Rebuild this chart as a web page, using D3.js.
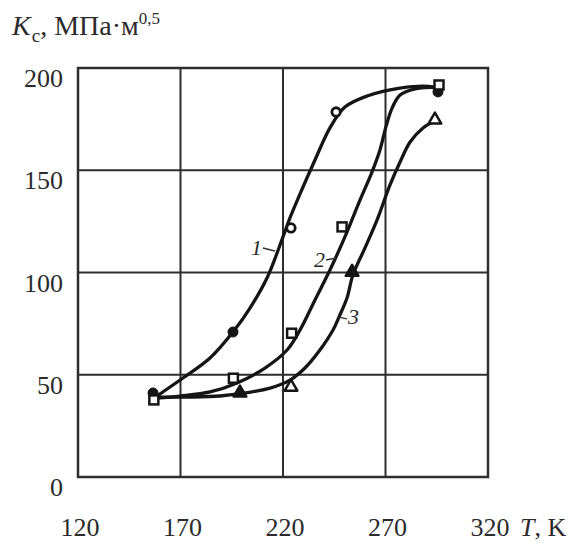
<!DOCTYPE html>
<html><head><meta charset="utf-8">
<script src="https://cdn.jsdelivr.net/npm/d3@7"></script>
<style>
body{margin:0;background:#fff}
svg{display:block;background:#fff}
text{font-family:"Liberation Serif","Times New Roman",serif;fill:#2b2b2b}
</style>
</head><body>
<svg id="chart" width="585" height="544"></svg>
<script>
// ---- data (T in K, Kc in MPa·m^0.5) ----
const tempTicks = [120, 170, 220, 270, 320];
const kcTicks = [0, 50, 100, 150, 200];

// measured points
const circleT = [156.6, 195.6, 223.9, 245.9, 295.6];
const circleK = [41.1, 70.9, 121.8, 178.5, 188.3];
const squareT = [157.0, 195.8, 224.2, 248.8, 296.1];
const squareK = [37.7, 48.3, 70.3, 122.3, 191.7];
const triangleT = [199.0, 223.9, 253.7, 294.1];
const triangleK = [41.1, 44.0, 100.2, 174.6];

// fitted curves
const curve1T = [158.5,171.2,184.4,195.6,203.9,212.2,220.0,223.4,228.3,235.6,242.9,250.2,261.0,277.1,293.2,296.6];
const curve1K = [39.6,48.4,58.2,70.9,82.6,97.3,117.4,126.7,138.4,155.0,170.7,180.9,186.3,190.2,190.7,188.8];
const curve2T = [158.5,169.8,184.4,197.6,211.2,222.0,228.3,235.6,242.9,250.2,257.6,263.4,267.3,270.2,273.2,277.1,284.4,296.6];
const curve2K = [38.6,39.6,41.6,46.0,53.3,62.1,71.9,86.6,101.2,117.4,135.5,149.1,159.9,171.2,180.4,186.8,189.8,190.7];
const curve3T = [158.5,174.6,189.3,201.5,213.7,223.4,230.7,238.0,244.4,247.3,251.2,254.1,260.0,265.9,272.2,277.1,282.0,288.3,294.1];
const curve3K = [39.1,39.1,39.6,41.1,43.5,47.4,53.3,62.1,71.9,78.2,87.5,98.8,112.0,125.7,142.8,154.0,163.8,170.7,174.1];

// curve labels with leader lines (data coords)
const curveNames = ["1", "2", "3"];
const leaderFromT = [210.2, 241.0, 247.3], leaderFromK = [112.0, 106.1, 78.2];
const leaderToT = [216.1, 245.9, 251.2],   leaderToK = [110.5, 107.1, 77.3];

// ---- drawing ----
const svg = d3.select("#chart");
const x = d3.scaleLinear().domain([120, 320]).range([78, 488]);
const y = d3.scaleLinear().domain([0, 200]).range([477, 68]);
const ink = "#151515", gridInk = "#2e2e2e";

// grid
const g = svg.append("g");
g.selectAll("line.v").data(tempTicks.slice(1, -1)).join("line")
  .attr("x1", d => x(d)).attr("x2", d => x(d)).attr("y1", y(0)).attr("y2", y(200))
  .attr("stroke", gridInk).attr("stroke-width", 2);
g.selectAll("line.h").data(kcTicks.slice(1, -1)).join("line")
  .attr("y1", d => y(d)).attr("y2", d => y(d)).attr("x1", x(120)).attr("x2", x(320))
  .attr("stroke", gridInk).attr("stroke-width", 2);
g.append("rect").attr("x", x(120)).attr("y", y(200)).attr("width", x(320) - x(120)).attr("height", y(0) - y(200))
  .attr("fill", "none").attr("stroke", gridInk).attr("stroke-width", 2.5);

// tick labels
svg.selectAll("text.yt").data(kcTicks).join("text")
  .attr("x", 63).attr("y", d => y(d) + 19).attr("text-anchor", "end")
  .attr("font-size", 26).text(d => d);
svg.selectAll("text.xt").data(tempTicks).join("text")
  .attr("x", d => x(d) + 2).attr("y", 536).attr("text-anchor", "middle")
  .attr("font-size", 26).text(d => d);

// axis titles
const xt = svg.append("text").attr("x", 520).attr("y", 536).attr("font-size", 26);
xt.append("tspan").attr("font-style", "italic").text("T");
xt.append("tspan").text(", K");

const yt = svg.append("text").attr("x", 12).attr("y", 35).attr("font-size", 28);
yt.append("tspan").attr("font-style", "italic").text("K");
yt.append("tspan").attr("font-size", 19).attr("dy", 7).attr("dx", 1).text("c");
yt.append("tspan").attr("dy", -7).text(", МПа·м");
yt.append("tspan").attr("font-size", 17).attr("dy", -11).text("0,5");

// curves
const line = d3.line().x(d => x(d[0])).y(d => y(d[1])).curve(d3.curveCatmullRom.alpha(0.5));
[[curve1T, curve1K], [curve2T, curve2K], [curve3T, curve3K]].forEach(([ts, ks]) => {
  svg.append("path").datum(d3.zip(ts, ks)).attr("d", line)
    .attr("fill", "none").attr("stroke", ink).attr("stroke-width", 3.3).attr("stroke-linecap", "round");
});

// markers
const circleOpen = [false, false, true, true, false];
svg.selectAll("circle.m").data(d3.zip(circleT, circleK)).join("circle")
  .attr("cx", d => x(d[0])).attr("cy", d => y(d[1]))
  .attr("r", (d, i) => circleOpen[i] ? 4.2 : 5)
  .attr("fill", (d, i) => circleOpen[i] ? "#fff" : ink)
  .attr("stroke", ink).attr("stroke-width", (d, i) => circleOpen[i] ? 2.8 : 1);
svg.selectAll("rect.m").data(d3.zip(squareT, squareK)).join("rect")
  .attr("x", d => x(d[0]) - 4.5).attr("y", d => y(d[1]) - 4.5).attr("width", 9).attr("height", 9)
  .attr("fill", "#fff").attr("stroke", ink).attr("stroke-width", 2.5);
const triFilled = [true, false, true, false];
const tri = d3.symbol().type(d3.symbolTriangle).size(70);
svg.selectAll("path.tri").data(d3.zip(triangleT, triangleK)).join("path")
  .attr("d", tri).attr("transform", d => `translate(${x(d[0])},${y(d[1])})`)
  .attr("fill", (d, i) => triFilled[i] ? ink : "#fff")
  .attr("stroke", ink).attr("stroke-width", 2.5).attr("stroke-linejoin", "round");

// curve labels
curveNames.forEach((name, i) => {
  const x1 = x(leaderFromT[i]), y1 = y(leaderFromK[i]), x2 = x(leaderToT[i]), y2 = y(leaderToK[i]);
  svg.append("line").attr("x1", x1).attr("y1", y1).attr("x2", x2).attr("y2", y2)
    .attr("stroke", "#333").attr("stroke-width", 1.4);
  const right = i === 2;
  svg.append("text")
    .attr("x", right ? x2 + 1 : x1 - 1).attr("y", y1 + 7)
    .attr("text-anchor", right ? "start" : "end")
    .attr("font-size", 22).attr("font-style", "italic").attr("fill", "#444").text(name);
});
</script>
</body></html>
